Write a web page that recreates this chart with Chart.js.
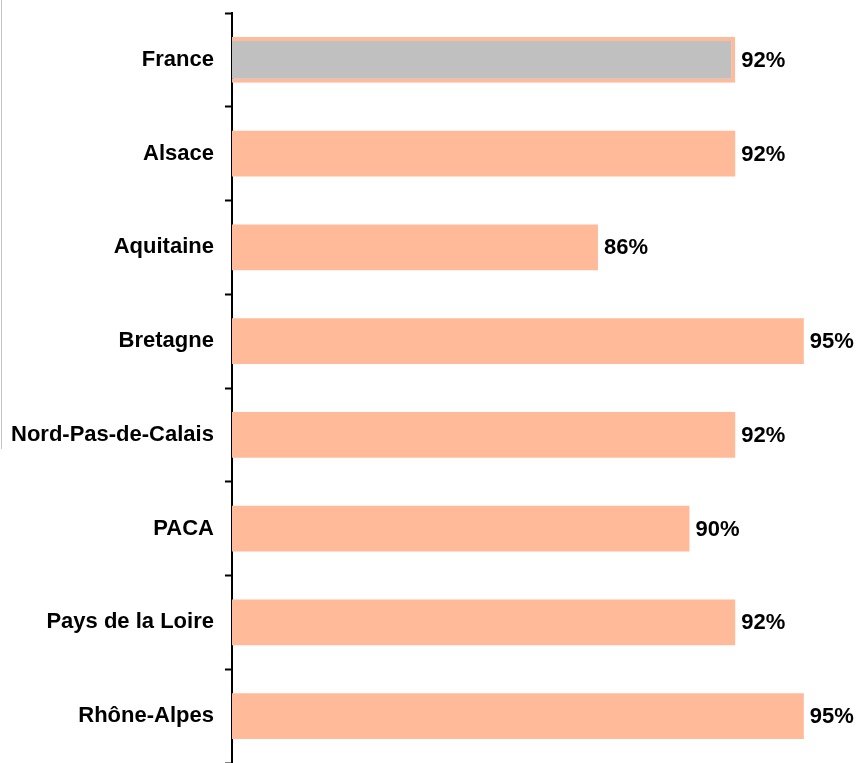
<!DOCTYPE html>
<html>
<head>
<meta charset="utf-8">
<script src="https://cdn.jsdelivr.net/npm/chart.js@4/dist/chart.umd.min.js"></script>
<style>
  html, body { margin: 0; padding: 0; background: #fff; }
  #wrap { position: relative; width: 856px; height: 763px; }
  #edge { position: absolute; left: 1px; top: 0; width: 0; height: 449px; border-left: 1px solid #c4c4c4; }
</style>
</head>
<body>
<div id="wrap">
  <canvas id="chart" width="856" height="763"></canvas>
  <div id="edge"></div>
</div>
<script>
var regions = ["France", "Alsace", "Aquitaine", "Bretagne", "Nord-Pas-de-Calais", "PACA", "Pays de la Loire", "Rhône-Alpes"];
var shares = [92, 92, 86, 95, 92, 90, 92, 95];

var salmon = "#FFBB99";
var grey = "#C0C0C0";

var fills = regions.map(function (r, i) { return i === 0 ? grey : salmon; });
var borders = regions.map(function (r, i) { return i === 0 ? 4 : 0; });

// writes the percentage just past the end of each bar
var valueLabels = {
  id: "valueLabels",
  afterDatasetsDraw: function (chart) {
    var ctx = chart.ctx;
    var meta = chart.getDatasetMeta(0);
    ctx.save();
    ctx.font = "bold 22px 'Liberation Sans', Arial, sans-serif";
    ctx.fillStyle = "#000";
    ctx.textAlign = "left";
    ctx.textBaseline = "middle";
    meta.data.forEach(function (bar, i) {
      ctx.fillText(shares[i] + "%", bar.x + 6, bar.y + 1);
    });
    ctx.restore();
  }
};

var chart = new Chart(document.getElementById("chart"), {
  type: "bar",
  data: {
    labels: regions,
    datasets: [{
      data: shares,
      backgroundColor: fills,
      borderColor: salmon,
      borderWidth: borders,
      borderSkipped: false,
      barPercentage: 0.49,
      categoryPercentage: 1
    }]
  },
  options: {
    indexAxis: "y",
    responsive: false,
    animation: false,
    layout: { padding: { left: 0, right: 27, top: 13, bottom: 0 } },
    plugins: {
      legend: { display: false },
      tooltip: { enabled: false }
    },
    scales: {
      x: {
        display: false,
        min: 70,
        max: 96.1
      },
      y: {
        z: 1,
        grid: {
          drawOnChartArea: false,
          drawTicks: true,
          tickLength: 7,
          tickWidth: 2,
          color: "#000",
          offset: true
        },
        border: { display: true, color: "#000", width: 2 },
        ticks: {
          color: "#000",
          padding: 11,
          font: { family: "'Liberation Sans', Arial, sans-serif", size: 22, weight: "bold" }
        },
        // let the axis run from the top padding to the bottom edge
        afterFit: function (scale) {
          scale.paddingTop = 0;
          scale.paddingBottom = 0;
        }
      }
    }
  },
  plugins: [valueLabels]
});
</script>
</body>
</html>
